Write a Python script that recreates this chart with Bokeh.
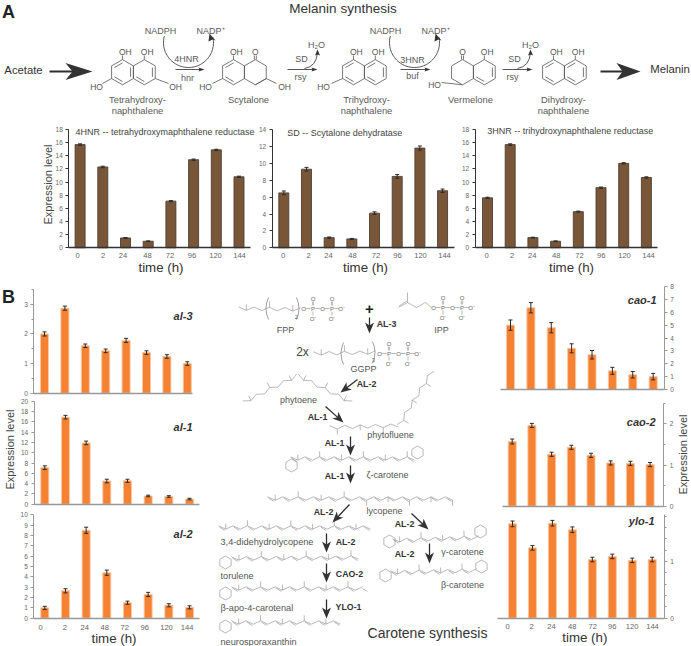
import math
import numpy as np
from bokeh.plotting import figure
from bokeh.models import Range1d, LinearAxis, FixedTicker, Whisker, TeeHead, ColumnDataSource
from bokeh.core.properties import value
from bokeh.embed import file_html
from bokeh.resources import INLINE

# ---------- data ----------
TIMES = ["0", "2", "24", "48", "72", "96", "120", "144"]
hnr4_vals = [15.7, 12.3, 1.5, 1.0, 7.1, 13.4, 14.9, 10.8]
hnr4_errs = [0.12, 0.12, 0.06, 0.05, 0.08, 0.1, 0.1, 0.1]
sd_vals = [6.5, 9.3, 1.2, 1.05, 4.1, 8.45, 11.8, 6.75]
sd_errs = [0.22, 0.22, 0.08, 0.06, 0.15, 0.22, 0.25, 0.2]
hnr3_vals = [7.6, 15.7, 1.55, 1.0, 5.5, 9.15, 12.85, 10.7]
hnr3_errs = [0.1, 0.12, 0.06, 0.05, 0.08, 0.1, 0.1, 0.1]
al3_vals = [2.0, 2.87, 1.6, 1.43, 1.78, 1.37, 1.24, 1.0]
al3_errs = [0.07, 0.07, 0.06, 0.06, 0.07, 0.06, 0.06, 0.06]
al1_vals = [7.1, 16.9, 11.9, 4.5, 4.55, 1.6, 1.5, 1.0]
al1_errs = [0.35, 0.35, 0.35, 0.35, 0.3, 0.15, 0.15, 0.15]
al2_vals = [1.0, 2.65, 8.5, 4.4, 1.5, 2.3, 1.25, 1.05]
al2_errs = [0.15, 0.2, 0.3, 0.25, 0.15, 0.2, 0.15, 0.15]
cao1_vals = [5.0, 6.35, 4.8, 3.2, 2.7, 1.45, 1.15, 1.0]
cao1_errs = [0.4, 0.4, 0.4, 0.35, 0.33, 0.27, 0.25, 0.25]
cao2_vals = [1.57, 1.96, 1.26, 1.43, 1.235, 1.05, 1.04, 1.01]
cao2_errs = [0.06, 0.05, 0.05, 0.05, 0.05, 0.05, 0.05, 0.05]
ylo1_vals = [1.664, 1.24, 1.675, 1.56, 1.035, 1.09, 1.02, 1.035]
ylo1_errs = [0.05, 0.04, 0.05, 0.05, 0.04, 0.04, 0.04, 0.04]

FONT = "Liberation Sans"
BROWN, BROWN_EDGE = "#7A5638", "#4E4034"
ORANGE, ORANGE_EDGE = "#F58233", "#FBC59F"

p = figure(width=691, height=646, x_range=Range1d(0, 691), y_range=Range1d(646, 0),
           x_axis_type=None, y_axis_type=None, toolbar_location=None,
           output_backend="svg", min_border=0, outline_line_color=None,
           styles={"position": "absolute", "left": "0px", "top": "0px"})
p.grid.visible = False
p.background_fill_color = "white"


def T(x, y, s, size=9, color="#444444", style="normal", align="center", angle=0.0):
    p.text([x], [y], text=[s], text_font=value(FONT), text_font_size=f"{size}px",
           text_color=color, text_font_style=style, text_align=align,
           text_baseline="middle", angle=angle)


def panel(name, vals, errs, c0, dx, y0, ytop, vmax, axis_x, side, major, minor, bar_w, x_left, x_right,
          color, edge, axis_color, lab_color, lab_xs, lab_y, cap=4, err_color="#2b2b2b"):
    k = (y0 - ytop) / vmax
    p.extra_y_ranges[name] = Range1d(-(646 - y0) / k, y0 / k)
    p.extra_x_ranges[name] = Range1d((0 - c0) / dx, (691 - c0) / dx)
    xs = list(range(len(vals)))
    p.vbar(x=xs, top=vals, bottom=0, width=bar_w / dx, fill_color=color, line_color=edge, line_width=0.9,
           x_range_name=name, y_range_name=name)
    src = ColumnDataSource(dict(x=xs, u=[v + e for v, e in zip(vals, errs)], l=[v - e for v, e in zip(vals, errs)]))
    p.add_layout(Whisker(source=src, base="x", upper="u", lower="l", dimension="height", level="annotation",
                         line_color=err_color, line_width=1,
                         upper_head=TeeHead(size=cap, line_color=err_color, line_width=1),
                         lower_head=TeeHead(size=cap, line_color=err_color, line_width=1),
                         x_range_name=name, y_range_name=name))
    ay = LinearAxis(y_range_name=name, fixed_location=axis_x, bounds=(0, vmax),
                    ticker=FixedTicker(ticks=major, minor_ticks=minor),
                    axis_line_color=axis_color, axis_line_width=1,
                    major_tick_line_color=axis_color, minor_tick_line_color=axis_color,
                    major_tick_out=3, major_tick_in=0, minor_tick_out=2, minor_tick_in=0,
                    major_label_text_font=FONT, major_label_text_font_size="6.5px",
                    major_label_text_color=lab_color, major_label_standoff=3)
    p.add_layout(ay, side)
    ax = LinearAxis(x_range_name=name, fixed_location=y0, bounds=((x_left - c0) / dx, (x_right - c0) / dx),
                    ticker=FixedTicker(ticks=[]), axis_line_color=axis_color, axis_line_width=1.3,
                    major_label_text_font_size="0px")
    p.add_layout(ax, "below")
    if lab_xs:
        for x, s in zip(lab_xs, TIMES):
            T(x, lab_y, s, 7.6, lab_color)


# ---------- panel A ----------
panel("a1", hnr4_vals, hnr4_errs, 79.6, 22.7, 247.3, 129, 18, 68.3, "left", list(range(0, 19, 2)), [], 10, 68.3, 250,
      BROWN, BROWN_EDGE, "#333333", "#666666", [77, 102.5, 122.5, 147, 169.5, 191.5, 215, 239], 255)
panel("a2", sd_vals, sd_errs, 283.3, 22.68, 247.3, 129, 14, 271.7, "left", list(range(0, 15, 2)), [], 10, 271.7, 454,
      BROWN, BROWN_EDGE, "#333333", "#666666", [282.5, 308, 328, 352, 375.5, 397, 420, 444], 255)
panel("a3", hnr3_vals, hnr3_errs, 487, 22.7, 247.3, 129, 18, 474.7, "left", list(range(0, 19, 2)), [], 10, 474.7, 657,
      BROWN, BROWN_EDGE, "#333333", "#666666", [486, 511.7, 531.7, 555.7, 579, 600.7, 624, 648], 255)
T(75, 131, "4HNR -- tetrahydroxymaphthalene reductase", 9, "#444444", align="left")
T(286.7, 132, "SD -- Scytalone dehydratase", 9, "#444444", align="left")
T(486.7, 130, "3HNR -- trihydroxynaphthalene reductase", 9, "#444444", align="left")
T(47, 184, "Expression level", 11, "#444444", angle=math.pi / 2)
for x in (160.5, 365, 571):
    T(x, 267, "time (h)", 13.3, "#333333")

# ---------- panel B ----------
panel("al3", al3_vals, al3_errs, 44, 20.4, 392.7, 289, 3.5, 33.3, "left", [0, 1, 2, 3], [0.5, 1.5, 2.5, 3.5], 8, 33.3, 192.3,
      ORANGE, ORANGE_EDGE, "#999999", "#666666", None, None)
panel("al1", al1_vals, al1_errs, 44.3, 20.67, 503.7, 400.7, 20, 33.7, "left", list(range(0, 21, 2)), [], 8, 33.7, 199,
      ORANGE, ORANGE_EDGE, "#999999", "#666666", None, None)
panel("al2", al2_vals, al2_errs, 44.3, 20.67, 617.7, 514.3, 10, 33.3, "left", list(range(0, 11)), [], 8, 33.3, 199,
      ORANGE, ORANGE_EDGE, "#999999", "#666666", [40, 64.3, 84.3, 104.3, 124.3, 144.3, 166, 186.7], 626.7)
panel("cao1", cao1_vals, cao1_errs, 510, 20.38, 389, 286, 8, 663.7, "right", list(range(0, 9)), [], 8, 500, 663.7,
      ORANGE, ORANGE_EDGE, "#999999", "#666666", None, None)
panel("cao2", cao2_vals, cao2_errs, 511.7, 19.7, 505.7, 402.7, 2.5, 663.3, "right", [0, 1, 2], [0.5, 1.5, 2.5], 8, 502, 663.3,
      ORANGE, ORANGE_EDGE, "#999999", "#666666", None, None)
panel("ylo1", ylo1_vals, ylo1_errs, 512, 19.96, 617.7, 514.3, 1.8236, 663.7, "right", [0, 1], [0.2, 0.4, 0.6, 0.8, 1.2, 1.4, 1.6, 1.8], 8, 497, 663.7,
      ORANGE, ORANGE_EDGE, "#999999", "#666666", [507, 531, 551, 571.7, 592.3, 611.7, 631.7, 652], 625.7)
T(192, 315, "al-3", 11, "#333333", "bold italic", "right")
T(192, 426, "al-1", 11, "#333333", "bold italic", "right")
T(192, 533, "al-2", 11, "#333333", "bold italic", "right")
T(656, 299, "cao-1", 11, "#333333", "bold italic", "right")
T(655, 421, "cao-2", 11, "#333333", "bold italic", "right")
T(654, 520, "ylo-1", 11, "#333333", "bold italic", "right")
T(9.5, 449, "Expression level", 11, "#444444", angle=math.pi / 2)
T(682.7, 454, "Expression level", 11, "#444444", angle=math.pi / 2)
T(113.5, 637.7, "time (h)", 13.3, "#333333")
T(584.3, 636.7, "time (h)", 13.3, "#333333")
T(1.5, 296, "B", 18, "#222222", "bold", "left")
T(1.5, 11, "A", 18, "#222222", "bold", "left")

# ---------- chemistry drawing helpers ----------
bx, by = [], []          # dark bonds (melanin)
cx, cy = [], []          # grey bonds (carotene)
hx, hy = [], []          # arrowheads


def seg(pts, store="b"):
    xs, ys = zip(*pts)
    (bx if store == "b" else cx).append(list(xs))
    (by if store == "b" else cy).append(list(ys))


def hexv(x, y, r):
    return [(x + r * math.cos(math.radians(a)), y - r * math.sin(math.radians(a))) for a in (90, 30, -30, -90, -150, 150)]


def ring(x, y, r, store="b", inner=()):
    v = hexv(x, y, r)
    seg(v + [v[0]], store)
    for i in inner:
        a, b = v[i], v[(i + 1) % 6]
        m = 0.74
        seg([(x + (a[0] - x) * m, y + (a[1] - y) * m), (x + (b[0] - x) * m, y + (b[1] - y) * m)], store)


def arrow(x0, y0, x1, y1, head=11, half=4.5, notch=3, lw=1.3, color="#2e2e2e"):
    L = math.hypot(x1 - x0, y1 - y0)
    ux, uy = (x1 - x0) / L, (y1 - y0) / L
    nx, ny = -uy, ux
    bxx, byy = x1 - ux * head, y1 - uy * head
    p.line([x0, x1 - ux * head * 0.6], [y0, y1 - uy * head * 0.6], line_color=color, line_width=lw)
    hx.append([x1, bxx + nx * half, x1 - ux * (head - notch), bxx - nx * half])
    hy.append([y1, byy + ny * half, y1 - uy * (head - notch), byy - ny * half])


# melanin pathway structures
RR = 12.6
RY = 71.7
W = RR * math.sqrt(3)
CHEM = "#555555"
for lx, li, ri in [(122, (5, 1, 3), (1, 3)), (353, (5, 3), (1, 3, 5)), (553, (5, 3), (1, 3, 5))]:
    ring(lx, RY, RR, inner=li)
    ring(lx + W, RY, RR, inner=ri)
ring(233, RY, RR, inner=(5, 3))
ring(233 + W, RY, RR)
ring(462, RY, RR)
ring(462 + W, RY, RR, inner=(1, 3))


def oh_up(x):
    seg([(x, RY - RR), (x, 55)])
    T(x - 3.5, 51, "OH", 8.5, CHEM, align="left")


for x in (122, 122 + W, 233, 353, 353 + W, 462 + W, 553, 553 + W):
    oh_up(x)
for x in (233 + W, 462):
    seg([(x - 1, RY - RR), (x - 1, 55)])
    seg([(x + 1, RY - RR), (x + 1, 55)])
    T(x, 51, "O", 8.5, CHEM)
YL = RY + RR / 2
seg([(122 - RR * .866, YL), (102, 83)])
T(96, 86, "HO", 8.5, CHEM)
seg([(122 + W + RR * .866, YL), (168, 83)])
T(175, 86, "OH", 8.5, CHEM)
seg([(233 - RR * .866, YL), (212, 83)])
T(205, 86, "HO", 8.5, CHEM)
seg([(233 + W, RY + RR), (266, 78)])
seg([(233 + W + RR * .866, YL), (276, 83)])
T(284, 86, "OH", 8.5, CHEM)
seg([(353 - RR * .866, YL), (331, 83)])
T(323, 86, "HO", 8.5, CHEM)
seg([(462, RY + RR), (441, 82)])
T(434, 84, "HO", 8.5, CHEM)

for x, y, s in [(137, 99, "Tetrahydroxy-"), (137, 109.5, "naphthalene"), (248, 99, "Scytalone"),
                (366, 99, "Trihydroxy-"), (366, 109.5, "naphthalene"), (470, 99, "Vermelone"),
                (563, 99, "Dihydroxy-"), (563, 109.5, "naphthalene")]:
    T(x, y, s, 9.4, "#5a5a5a")
for x, y, s in [(160, 30, "NADPH"), (210, 30, "NADP⁺"), (186, 58, "4HNR"), (187, 77, "hnr"),
                (301, 58, "SD"), (300, 76, "rsy"), (316, 44, "H₂O"),
                (385, 30, "NADPH"), (435, 30, "NADP⁺"), (412, 59, "3HNR"), (412, 75, "buf"),
                (514, 58, "SD"), (512, 76, "rsy"), (530, 44, "H₂O")]:
    T(x, y, s, 9, "#5a5a5a")

T(342.5, 8, "Melanin synthesis", 13.5, "#333333")
T(23, 69, "Acetate", 11.3, "#333333")
T(669.5, 68, "Melanin", 11.3, "#333333")
arrow(49, 71, 92, 71, head=27, half=8.5, notch=7, lw=2)
arrow(600, 71, 640, 71, head=24, half=8.5, notch=6, lw=2)
for x0, x1 in [(175, 204), (287, 317), (400, 430), (502, 532)]:
    arrow(x0, 69, x1, 69, head=6, half=2, notch=1, lw=0.9, color="#444444")

# cofactor arcs
for c in (188, 414):
    t = np.radians(np.linspace(-12, 195, 60))
    xs = c + 25 * np.cos(t)
    ys = 42 + 25 * np.sin(t)
    p.line(list(xs), list(ys), line_color="#444444", line_width=0.9)
    hx.append([c + 21, c + 20, c + 24, c + 27])
    hy.append([33, 41, 39, 40])
for x0, x1 in [(304, 317), (517, 530)]:
    p.quadratic(x0=[x0], y0=[68], x1=[x1], y1=[52], cx=[x1 - 1], cy=[66], line_color="#444444", line_width=0.9)
    hx.append([x1, x1 - 2.5, x1, x1 + 2.5])
    hy.append([49, 55, 54, 55])


# ---------- carotene pathway ----------
def chain(a, b, seg_len=7.4, amp=1.7, every=3, side=1, blen=5.5, doubles=True, start=1):
    L = math.hypot(b[0] - a[0], b[1] - a[1])
    n = max(2, int(round(L / seg_len)))
    ux, uy = (b[0] - a[0]) / L, (b[1] - a[1]) / L
    nx, ny = -uy, ux
    pts = []
    for i in range(n + 1):
        s = amp if i % 2 else -amp
        pts.append((a[0] + ux * L * i / n + nx * s, a[1] + uy * L * i / n + ny * s))
    seg(pts, "c")
    for i in range(start, n + 1, every):
        seg([pts[i], (pts[i][0] + nx * side * blen, pts[i][1] + ny * side * blen)], "c")
    if doubles:
        for i in range(0, n, 2):
            q, r = pts[i], pts[i + 1]
            seg([(q[0] + nx * 1.3 + ux, q[1] + ny * 1.3 + uy), (r[0] + nx * 1.3 - ux, r[1] + ny * 1.3 - uy)], "c")
    return pts


def phosphate(x, y):
    for k, s in enumerate(["O", "P", "O", "P", "O⁻"]):
        T(x + 9.5 * k, y, s, 6, "#666666")
        if k < 4:
            seg([(x + 9.5 * k + 2.3, y), (x + 9.5 * k + 7.2, y)], "c")
    for k in (1, 3):
        T(x + 9.5 * k, y - 9.5, "O", 6, "#666666")
        T(x + 9.5 * k, y + 10, "O⁻", 6, "#666666")
        seg([(x + 9.5 * k - .6, y - 7), (x + 9.5 * k - .6, y - 3)], "c")
        seg([(x + 9.5 * k + .6, y - 7), (x + 9.5 * k + .6, y - 3)], "c")
        seg([(x + 9.5 * k, y + 3), (x + 9.5 * k, y + 7)], "c")


def paren(x, y, d):
    p.quadratic(x0=[x], y0=[y - 11], x1=[x], y1=[y + 11], cx=[x + d], cy=[y], line_color="#777777", line_width=0.7)


chain((238, 308), (300, 309), doubles=False, every=3, side=-1, blen=6)
phosphate(303, 308)
chain((313, 353), (375, 352), doubles=False, every=3, side=-1, blen=6)
phosphate(379, 353)
seg([(398, 307), (407, 302), (416, 307), (425, 302), (431, 307)], "c")
seg([(407, 302), (407, 292)], "c")
seg([(398.5, 305.5), (406.5, 300.5)], "c")
phosphate(433, 307)
paren(268, 308, -5); paren(296, 308, 5); paren(343, 353, -5); paren(372, 352, 5)
T(296, 316, "2", 6, "#666666")
T(373, 359, "3", 6, "#666666")

chain((243, 402), (297, 375), doubles=False, side=-1)
chain((297, 375), (351, 402), doubles=False, side=-1)
chain((329, 427), (398, 425), doubles=False, side=1)
chain((398, 425), (432, 370), doubles=False, side=1)
chain((290, 458), (414, 458), doubles=True, side=-1)
ring(291, 465, 6.5, "c")
ring(417, 452, 6.5, "c")
chain((267, 498), (359, 498), side=-1)
chain((359, 498), (452, 498), side=1)
chain((218, 527), (370, 527), side=-1)
chain((392, 540), (478, 537), side=-1)
ring(389, 541, 6.5, "c")
ring(480, 531, 6.5, "c")
chain((390, 572), (476, 570), side=-1)
ring(385, 575, 6.5, "c")
ring(481, 566, 6.5, "c")
chain((231, 558), (358, 557), side=-1)
ring(225, 562, 6.5, "c")
chain((231, 588), (362, 588), side=-1)
ring(225, 593, 6.5, "c")
seg([(362, 588), (367, 591)], "c")
chain((231, 622), (340, 622), side=-1)
ring(225, 626, 6.5, "c")

for x, y, s in [(298, 399, "phytoene"), (390, 434, "phytofluene"), (387, 474, "ζ-carotene"), (384, 510, "lycopene"),
                (462, 551, "γ-carotene"), (462, 584, "β-carotene")]:
    T(x, y, s, 9, "#555555")
for y, s in [(541, "3,4-didehydrolycopene"), (575, "torulene"), (607, "β-apo-4-carotenal"), (641, "neurosporaxanthin")]:
    T(220, y, s, 9.2, "#555555", align="left")
T(285, 329, "FPP", 9, "#555555")
T(441, 329, "IPP", 9, "#555555")
T(363, 368, "GGPP", 9, "#555555")
T(302, 351, "2x", 12, "#444444")
T(369, 308, "+", 15, "#222222", "bold")
T(427, 632, "Carotene synthesis", 14, "#333333")

for x, y, s in [(386, 323, "AL-3"), (366, 383, "AL-2"), (317, 416, "AL-1"), (334, 442, "AL-1"), (334, 475, "AL-1"),
                (323, 511, "AL-2"), (404, 523, "AL-2"), (404, 553, "AL-2"), (345, 541, "AL-2"),
                (349, 573, "CAO-2"), (348, 606, "YLO-1")]:
    T(x, y, s, 8.8, "#333333", "bold")
for a in [(369, 317, 369, 333), (357, 379, 340, 392), (325, 406, 343, 422), (350, 436, 350, 455), (350, 465, 350, 483),
          (349, 504, 332, 522), (411, 513, 428, 529), (429, 543, 429, 563), (326, 533, 326, 552), (326, 563, 326, 582),
          (326, 599, 326, 618)]:
    arrow(*a)

p.multi_line(bx, by, line_color="#555555", line_width=0.8)
p.multi_line(cx, cy, line_color="#8a8a8a", line_width=0.6)
p.patches(hx, hy, fill_color="#333333", line_color=None)

open("out.html", "w").write(file_html(p, INLINE))
